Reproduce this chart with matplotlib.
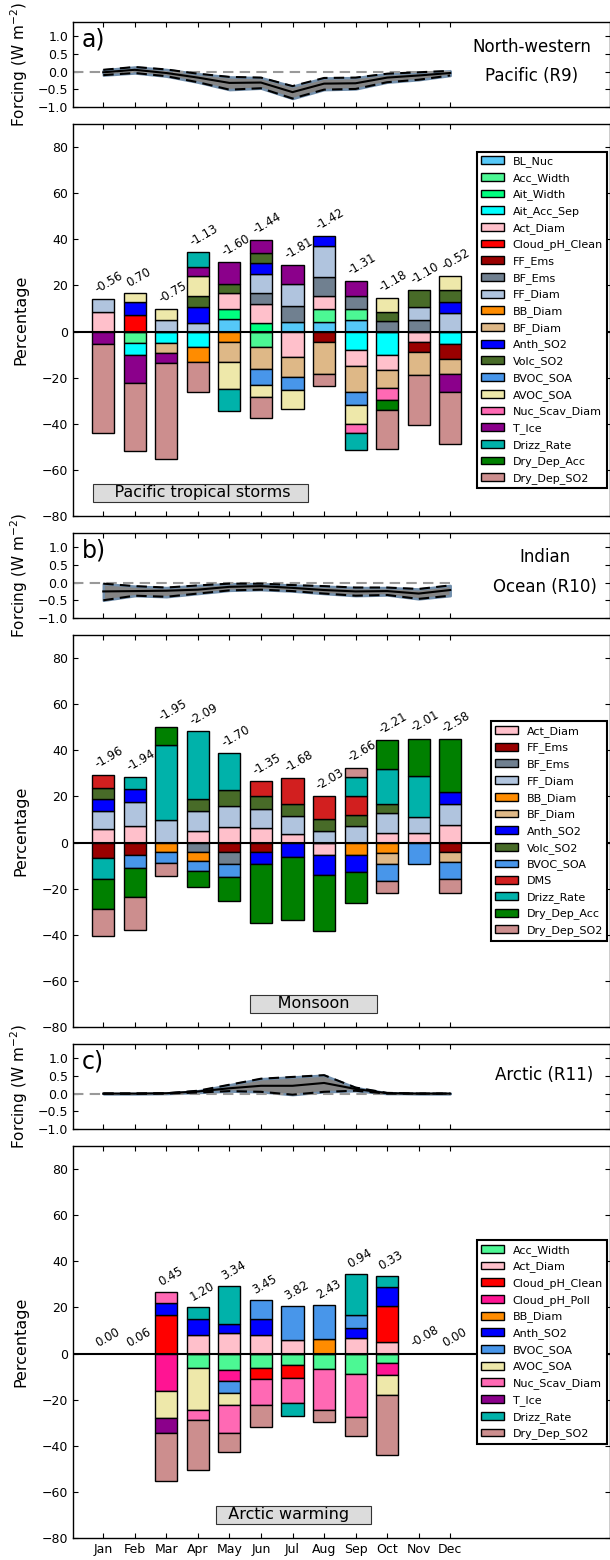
import numpy as np
import matplotlib
matplotlib.use('Agg')
import matplotlib.pyplot as plt
from matplotlib.patches import Patch

plt.rcParams['font.family'] = ['DejaVu Sans']
plt.rcParams['xtick.direction'] = 'in'
plt.rcParams['ytick.direction'] = 'in'
plt.rcParams['xtick.top'] = True
plt.rcParams['ytick.right'] = True
plt.rcParams['xtick.major.size'] = 3.5
plt.rcParams['ytick.major.size'] = 3.5
plt.rcParams['axes.linewidth'] = 1.0

months = np.arange(1, 13)
month_labels = ['Jan', 'Feb', 'Mar', 'Apr', 'May', 'Jun',
                'Jul', 'Aug', 'Sep', 'Oct', 'Nov', 'Dec']

# colour of each perturbed parameter
colours = {
    'BL_Nuc': '#55c8f8', 'Acc_Width': '#4cf894', 'Ait_Width': '#00ff7f',
    'Ait_Acc_Sep': '#00ffff', 'Act_Diam': '#ffc0cb', 'Cloud_pH_Clean': '#ff0000',
    'Cloud_pH_Poll': '#ff1493', 'FF_Ems': '#990000', 'BF_Ems': '#708090',
    'FF_Diam': '#b0c4de', 'BB_Diam': '#ff8c00', 'BF_Diam': '#deb887',
    'Anth_SO2': '#0000ff', 'Volc_SO2': '#486b28', 'BVOC_SOA': '#4896ea',
    'AVOC_SOA': '#eee8aa', 'Nuc_Scav_Diam': '#ff69b4', 'T_Ice': '#8b008b',
    'DMS': '#d21f1f', 'Drizz_Rate': '#00b2aa', 'Dry_Dep_Acc': '#008000',
    'Dry_Dep_SO2': '#cc8e8e',
}

# ---- a) North-western Pacific (R9) ----
r9_names = ['BL_Nuc', 'Acc_Width', 'Ait_Width', 'Ait_Acc_Sep', 'Act_Diam',
            'Cloud_pH_Clean', 'FF_Ems', 'BF_Ems', 'FF_Diam', 'BB_Diam',
            'BF_Diam', 'Anth_SO2', 'Volc_SO2', 'BVOC_SOA', 'AVOC_SOA',
            'Nuc_Scav_Diam', 'T_Ice', 'Drizz_Rate', 'Dry_Dep_Acc', 'Dry_Dep_SO2']
r9_pct = [
    [0, 0, 0, 0, 5.6, 0, 4.3, 4.1, 4.8, 0, 0, 0],
    [0, -4.8, 0, 0, 0, -6.7, 0, 5.6, 5.1, 0, 0, 0],
    [0, 0, 0, 0, 4.2, 3.9, 0, 0, 0, 0, 0, 0],
    [0, -5.2, -4.8, -6.9, 0, 0, 0, 0, -8.1, -10.1, 0, -5.6],
    [8.4, 0, 0, 0, 6.8, 8.0, -11.1, 5.6, -6.9, -6.5, -4.5, 0],
    [0, 7.1, 0, 0, 0, 0, 0, 0, 0, 0, 0, 0],
    [0, 0, 0, 0, 0, 0, 0, -4.6, 0, 0, -4.3, -6.4],
    [0, 0, 0, 0, 0, 4.8, 6.8, 8.2, 5.4, 4.5, 5.1, 0],
    [5.8, 0, 4.9, 3.9, 0, 8.1, 9.4, 13.6, 0, 0, 5.5, 8.0],
    [0, 0, 0, -6.2, -4.6, 0, 0, 0, 0, 0, 0, 0],
    [0, 0, -4.3, 0, -8.5, -9.4, -8.8, -13.7, -11.3, -7.7, -10.0, -6.4],
    [0, 5.5, 0, 6.7, 0, 4.8, 0, 4.3, 0, 0, 0, 4.6],
    [0, 0, 0, 4.8, 4.1, 4.5, 0, 0, 0, 4.1, 7.2, 5.5],
    [0, 0, 0, 0, 0, -6.9, -5.4, 0, -5.6, 0, 0, 0],
    [0, 4.2, 4.8, 8.5, -11.9, -5.6, -8.2, 0, -8.0, 5.9, 0, 5.9],
    [0, 0, 0, 0, 0, 0, 0, 0, -4.2, -5.4, 0, 0],
    [-5.6, -12.2, -4.6, 4.1, 9.3, 5.6, 8.5, 0, 6.5, 0, 0, -7.8],
    [0, 0, 0, 6.4, -9.4, 0, 0, 0, -7.1, 0, 0, 0],
    [0, 0, 0, 0, 0, 0, 0, 0, 0, -4.3, 0, 0],
    [-38.6, -29.5, -41.7, -13.0, 0, -9.1, 0, -5.4, 0, -17.1, -21.7, -22.7],
]
r9_totals = ['-0.56', '0.70', '-0.75', '-1.13', '-1.60', '-1.44',
             '-1.81', '-1.42', '-1.31', '-1.18', '-1.10', '-0.52']
r9_mean = [-0.02, 0.05, -0.04, -0.17, -0.32, -0.31, -0.58, -0.34, -0.33, -0.17, -0.11, -0.04]
r9_hi = [0.05, 0.13, 0.06, -0.06, -0.15, -0.17, -0.41, -0.18, -0.17, -0.06, -0.02, 0.02]
r9_lo = [-0.10, -0.04, -0.13, -0.30, -0.51, -0.47, -0.76, -0.51, -0.49, -0.30, -0.23, -0.11]

# ---- b) Indian Ocean (R10) ----
r10_names = ['Act_Diam', 'FF_Ems', 'BF_Ems', 'FF_Diam', 'BB_Diam', 'BF_Diam',
             'Anth_SO2', 'Volc_SO2', 'BVOC_SOA', 'DMS', 'Drizz_Rate',
             'Dry_Dep_Acc', 'Dry_Dep_SO2']
r10_pct = [
    [5.8, 7.2, 0, 5.2, 6.9, 6.2, 3.9, -5.4, 0, 4.3, 4.3, 7.8],
    [-6.9, -5.6, 0, 0, -4.3, -4.1, 0, 0, 0, 0, 0, -4.3],
    [0, 0, 0, -3.9, -4.8, 0, 0, 0, 0, 0, 0, 0],
    [7.8, 10.4, 9.6, 8.4, 9.0, 8.5, 7.5, 4.9, 7.2, 8.7, 6.9, 8.7],
    [0, 0, -4.3, -4.3, 0, 0, 0, 0, -5.4, -4.5, 0, 0],
    [0, 0, 0, 0, 0, 0, 0, 0, 0, -4.9, 0, -4.3],
    [5.1, 5.8, 0, 0, 0, -5.1, -6.4, -8.8, -7.5, 0, 0, 5.5],
    [4.9, 0, 0, 5.2, 6.7, 5.5, 5.5, 5.1, 4.9, 3.9, 0, 0],
    [0, -5.4, -4.5, -4.3, -5.9, 0, 0, 0, 0, -7.5, -9.4, -7.4],
    [5.9, 0, 0, 0, 0, 6.4, 10.9, 10.3, 8.1, 0, 0, 0],
    [-8.7, 5.2, 32.6, 29.4, 16.4, 0, 0, 0, 8.1, 15.2, 17.8, 0],
    [-13.2, -12.6, 8.0, -6.7, -10.4, -25.9, -27.1, -24.0, -13.3, 12.3, 16.1, 22.9],
    [-11.9, -14.2, -5.5, 0, 0, 0, 0, 0, 4.2, -5.1, 0, -5.8],
]
r10_totals = ['-1.96', '-1.94', '-1.95', '-2.09', '-1.70', '-1.35',
              '-1.68', '-2.03', '-2.66', '-2.21', '-2.01', '-2.58']
r10_mean = [-0.25, -0.24, -0.23, -0.20, -0.12, -0.10, -0.15, -0.21, -0.25, -0.24, -0.31, -0.21]
r10_hi = [-0.03, -0.10, -0.14, -0.08, -0.03, -0.03, -0.07, -0.10, -0.14, -0.14, -0.18, -0.08]
r10_lo = [-0.50, -0.37, -0.40, -0.31, -0.22, -0.20, -0.24, -0.31, -0.37, -0.35, -0.46, -0.37]

# ---- c) Arctic (R11) ----
r11_names = ['Acc_Width', 'Act_Diam', 'Cloud_pH_Clean', 'Cloud_pH_Poll',
             'BB_Diam', 'Anth_SO2', 'BVOC_SOA', 'AVOC_SOA', 'Nuc_Scav_Diam',
             'T_Ice', 'Drizz_Rate', 'Dry_Dep_SO2']
r11_pct = [
    [0, 0, 0, -6.1, -7.2, -6.1, -4.8, -6.8, -8.7, -4.2, 0, 0],
    [0, 0, 0, 8.0, 8.7, 8.1, 5.9, 0, 6.9, 5.2, 0, 0],
    [0, 0, 16.6, 0, 0, -4.8, -5.8, 0, 0, 15.2, 0, 0],
    [0, 0, -16.4, 0, -4.6, 0, 0, 0, 0, -4.9, 0, 0],
    [0, 0, 0, 0, 0, 0, 0, 6.2, 0, 0, 0, 0],
    [0, 0, 5.2, 6.9, 4.2, 6.8, 0, 0, 4.2, 8.4, 0, 0],
    [0, 0, 0, 0, -5.4, 8.4, 14.8, 14.8, 5.5, 0, 0, 0],
    [0, 0, -11.4, -18.5, -5.1, 0, 0, 0, 0, -9.1, 0, 0],
    [0, 0, 4.9, -4.3, -12.2, -11.4, -10.9, -17.5, -19.0, 0, 0, 0],
    [0, 0, -6.8, 0, 0, 0, 0, 0, 0, 0, 0, 0],
    [0, 0, 0, 5.2, 16.2, 0, -5.4, 0, 17.7, 4.8, 0, 0],
    [0, 0, -20.5, -21.7, -8.4, -9.4, 0, -5.4, -8.0, -25.9, 0, 0],
]
r11_totals = ['0.00', '0.06', '0.45', '1.20', '3.34', '3.45',
              '3.82', '2.43', '0.94', '0.33', '-0.08', '0.00']
r11_mean = [0, 0, 0.01, 0.06, 0.15, 0.22, 0.22, 0.30, 0.13, 0.01, 0, 0]
r11_hi = [0, 0, 0.01, 0.08, 0.25, 0.42, 0.47, 0.52, 0.17, 0.02, 0, 0]
r11_lo = [0, 0, 0, 0.03, 0.07, 0.05, -0.03, 0.05, 0.08, 0, 0, 0]

# layout in pixels (figure 610 x 1560)
FW, FH = 610.0, 1560.0
LEFT, RIGHT = 73.3, 609.5
XLIM = (0.05, 17.05)


def axes_px(fig, top, bottom):
    return fig.add_axes([LEFT / FW, 1 - bottom / FH, (RIGHT - LEFT) / FW, (bottom - top) / FH])


fig = plt.figure(figsize=(6.1, 15.6), dpi=100)

panels = [
    ('a)', 'North-western\nPacific (R9)', (0.855, 0.54), '    Pacific tropical storms   ', 4.07,
     r9_names, r9_pct, r9_totals, r9_mean, r9_lo, r9_hi),
    ('b)', 'Indian\nOcean (R10)', (0.88, 0.54), '     Monsoon     ', 7.67,
     r10_names, r10_pct, r10_totals, r10_mean, r10_lo, r10_hi),
    ('c)', 'Arctic (R11)', (0.878, 0.63), '  Arctic warming    ', 7.04,
     r11_names, r11_pct, r11_totals, r11_mean, r11_lo, r11_hi),
]

for k, (letter, region, reg_xy, event, event_x, names, pct, totals, mean, lo, hi) in enumerate(panels):
    off = 511 * k
    ax_f = axes_px(fig, 22 + off, 107 + off)
    ax_b = axes_px(fig, 124 + off, 516 + off)

    # --- forcing strip ---
    ax_f.plot([XLIM[0], 12], [0, 0], color='#999999', lw=1.5, ls=(0, (5, 3)))
    ax_f.fill_between(months, lo, hi, facecolor='#858585', edgecolor='#7390ad', lw=1.8)
    ax_f.plot(months, hi, color='black', lw=1.5, ls=(0, (5, 3)))
    ax_f.plot(months, lo, color='black', lw=1.5, ls=(0, (5, 3)))
    ax_f.plot(months, mean, color='black', lw=1.5)
    ax_f.set_xlim(*XLIM)
    ax_f.set_ylim(-1.0, 1.4)
    ax_f.set_yticks([-1.0, -0.5, 0.0, 0.5, 1.0])
    ax_f.set_xticks(months)
    ax_f.set_xticklabels([])
    ax_f.tick_params(labelsize=9)
    ax_f.set_ylabel('Forcing (W m$^{-2}$)', fontsize=11)
    ax_f.yaxis.set_label_coords(-0.08, 0.5)
    ax_f.text(0.016, 0.79, letter, transform=ax_f.transAxes, fontsize=17, va='center', ha='left')
    ax_f.text(reg_xy[0], reg_xy[1], region, transform=ax_f.transAxes, fontsize=12,
              ha='center', va='center', linespacing=1.8)

    # --- stacked percentage bars ---
    vals = np.array(pct, dtype=float)
    pos_cum = np.zeros(12)
    neg_cum = np.zeros(12)
    handles = []
    for name, row in zip(names, vals):
        c = colours[name]
        p = row > 0
        n = row < 0
        if p.any():
            ax_b.bar(months[p], row[p], width=0.7, bottom=pos_cum[p], color=c,
                     edgecolor='black', lw=1.0, zorder=2)
        if n.any():
            ax_b.bar(months[n], row[n], width=0.7, bottom=neg_cum[n], color=c,
                     edgecolor='black', lw=1.0, zorder=2)
        pos_cum += np.where(p, row, 0)
        neg_cum += np.where(n, row, 0)
        handles.append(Patch(facecolor=c, edgecolor='black', label=name))

    ax_b.axhline(0, color='black', lw=1.5, zorder=3)
    for m, top, lab in zip(months, pos_cum, totals):
        ax_b.text(m - 0.33, top + 1.5, lab, rotation=30, ha='left', va='bottom', fontsize=8.5)

    ax_b.text(event_x, -70, event, fontsize=11.5, ha='center', va='center',
              bbox=dict(boxstyle='square,pad=0.1', facecolor='#dcdcdc', edgecolor='#333333', lw=0.8))

    ax_b.set_xlim(*XLIM)
    ax_b.set_ylim(-80, 90)
    ax_b.set_yticks(np.arange(-80, 81, 20))
    ax_b.set_xticks(months)
    if k == 2:
        ax_b.set_xticklabels(month_labels)
    else:
        ax_b.set_xticklabels([])
    ax_b.tick_params(labelsize=9)
    ax_b.set_ylabel('Percentage', fontsize=11.5)
    ax_b.yaxis.set_label_coords(-0.083, 0.5)

    leg = ax_b.legend(handles=handles, loc='center right', fontsize=8, fancybox=False,
                      framealpha=1, edgecolor='black', borderaxespad=0.2, labelspacing=0.52)
    leg.get_frame().set_linewidth(1.5)

fig.savefig('out.png', dpi=100, facecolor='white')
